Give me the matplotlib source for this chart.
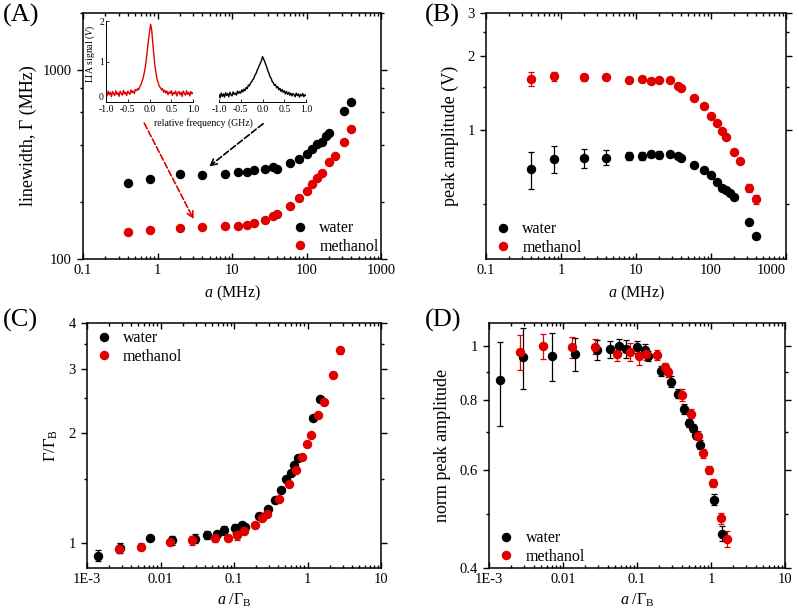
import numpy as np
import matplotlib
matplotlib.use('Agg')
import matplotlib.pyplot as plt
from matplotlib.lines import Line2D
from matplotlib.ticker import FixedLocator, FixedFormatter, NullFormatter

plt.rcParams['font.family'] = ['Liberation Serif', 'DejaVu Serif']
plt.rcParams['mathtext.fontset'] = 'custom'
plt.rcParams['mathtext.rm'] = 'Liberation Serif'
plt.rcParams['mathtext.it'] = 'Liberation Serif:italic'
plt.rcParams['font.size'] = 11

RED = '#e00000'

# (A) linewidth vs a
a_water = [0.4, 0.8, 2, 4, 8, 12, 16, 20, 28, 36, 40, 60, 80, 100, 120, 140, 160, 180, 200, 320, 400]
lw_water = [253, 265, 282, 277, 282, 288, 289, 296, 300, 305, 301, 323, 336, 359, 383, 406, 418, 445, 463, 603, 675]
a_meth = [0.4, 0.8, 2, 4, 8, 12, 16, 20, 28, 36, 40, 60, 80, 100, 120, 140, 160, 200, 240, 320, 400]
lw_meth = [139, 142, 146, 147, 149, 149, 152, 155, 161, 168, 173, 190, 209, 230, 249, 268, 284, 324, 351, 418, 486]

# (B) peak amplitude vs a
amp_water = [0.698, 0.766, 0.77, 0.775, 0.788, 0.79, 0.802, 0.797, 0.80, 0.79, 0.77, 0.724, 0.691,
             0.658, 0.616, 0.583, 0.57, 0.554, 0.536, 0.426, 0.371]
amp_water_err = [0.12, 0.096, 0.07, 0.055, 0.03, 0.03, 0.025, 0.025, 0.02, 0.015, 0.015, 0.015, 0.012,
                 0.01, 0.01, 0.01, 0.008, 0.008, 0.008, 0.008, 0.008]
amp_meth = [1.618, 1.664, 1.643, 1.648, 1.603, 1.613, 1.592, 1.603, 1.598, 1.52, 1.488, 1.355, 1.254,
            1.143, 1.067, 0.994, 0.94, 0.82, 0.751, 0.583, 0.524]
amp_meth_err = [0.11, 0.07, 0.05, 0.05, 0.04, 0.04, 0.04, 0.03, 0.02, 0.02, 0.02, 0.02, 0.02,
                0.015, 0.015, 0.015, 0.015, 0.015, 0.015, 0.02, 0.02]

# (C) normalised linewidth vs a / Gamma_B
x_c_water = [0.00143, 0.00284, 0.00714, 0.0144, 0.029, 0.0431, 0.0584, 0.0727, 0.1017, 0.129, 0.143,
             0.216, 0.292, 0.364, 0.435, 0.508, 0.588, 0.66, 0.733, 1.172, 1.475]
g_c_water = [0.925, 0.971, 1.032, 1.017, 1.028, 1.054, 1.06, 1.085, 1.099, 1.118, 1.108,
             1.186, 1.236, 1.309, 1.40, 1.494, 1.555, 1.638, 1.709, 2.203, 2.472]
g_c_water_err = [0.03, 0.03, 0.02, 0.03, 0.03, 0.025, 0.02, 0.03, 0.03, 0.025, 0.02,
                 0.025, 0.02, 0.02, 0.02, 0.02, 0.02, 0.02, 0.03, 0.03, 0.04]
x_c_meth = [0.0027, 0.00538, 0.01365, 0.0272, 0.0548, 0.0824, 0.109, 0.138, 0.194, 0.242, 0.277,
            0.412, 0.553, 0.688, 0.83, 0.973, 1.113, 1.372, 1.674, 2.198, 2.767]
g_c_meth = [0.961, 0.979, 1.006, 1.017, 1.03, 1.032, 1.052, 1.081, 1.122, 1.173, 1.203,
            1.317, 1.451, 1.587, 1.72, 1.862, 1.971, 2.245, 2.437, 2.889, 3.37]
g_c_meth_err = [0.02, 0.02, 0.02, 0.03, 0.02, 0.02, 0.03, 0.02, 0.02, 0.02, 0.02,
                0.02, 0.02, 0.02, 0.02, 0.02, 0.02, 0.02, 0.02, 0.05, 0.07]

# (D) normalised peak amplitude vs a / Gamma_B
x_d_water = [0.00142, 0.00288, 0.00719, 0.0144, 0.0284, 0.0433, 0.0567, 0.0713, 0.0998, 0.127, 0.141,
             0.211, 0.286, 0.353, 0.425, 0.503, 0.563, 0.618, 0.705, 1.10, 1.39]
n_d_water = [0.869, 0.956, 0.961, 0.969, 0.985, 0.988, 1.0, 0.989, 0.997, 0.984, 0.96,
             0.903, 0.863, 0.821, 0.771, 0.729, 0.713, 0.693, 0.666, 0.530, 0.461]
n_d_water_err = [0.15, 0.12, 0.095, 0.065, 0.04, 0.035, 0.03, 0.035, 0.025, 0.025, 0.02,
                 0.02, 0.02, 0.015, 0.015, 0.012, 0.012, 0.012, 0.012, 0.012, 0.014]
x_d_meth = [0.00266, 0.00537, 0.0134, 0.0268, 0.0538, 0.08, 0.107, 0.134, 0.188, 0.239,
            0.266, 0.406, 0.535, 0.667, 0.787, 0.929, 1.065, 1.35, 1.63]
n_d_meth = [0.977, 1.0, 0.997, 0.997, 0.969, 0.976, 0.96, 0.966, 0.963, 0.918,
            0.897, 0.818, 0.757, 0.691, 0.642, 0.60, 0.568, 0.491, 0.451]
n_d_meth_err = [0.07, 0.053, 0.043, 0.031, 0.03, 0.035, 0.035, 0.02, 0.02, 0.015,
                0.015, 0.02, 0.015, 0.012, 0.012, 0.01, 0.01, 0.012, 0.015]

# inset spectra (LIA signal, V) sampled every 0.025 GHz
rel_freq = np.linspace(-1.0, 1.0, 81)
lia_meth = [0.22, 0.15, 0.27, 0.18, 0.24, 0.13, 0.26, 0.20, 0.16, 0.28, 0.19, 0.23, 0.14, 0.27, 0.21,
            0.17, 0.29, 0.20, 0.24, 0.16, 0.27, 0.22, 0.19, 0.30, 0.23, 0.27, 0.21, 0.31, 0.28, 0.33,
            0.30, 0.38, 0.42, 0.50, 0.58, 0.70, 0.84, 1.05, 1.28, 1.52, 1.72, 1.92, 1.78, 1.45, 1.15,
            0.88, 0.70, 0.55, 0.48, 0.38, 0.36, 0.30, 0.33, 0.24, 0.29, 0.22, 0.27, 0.18, 0.25, 0.21,
            0.28, 0.16, 0.24, 0.20, 0.27, 0.15, 0.23, 0.26, 0.18, 0.24, 0.14, 0.27, 0.21, 0.17, 0.28,
            0.19, 0.24, 0.15, 0.26, 0.20, 0.23]
lia_water = [0.18, 0.10, 0.22, 0.14, 0.20, 0.12, 0.23, 0.16, 0.21, 0.13, 0.24, 0.18, 0.15, 0.25, 0.19,
             0.22, 0.17, 0.27, 0.21, 0.26, 0.22, 0.30, 0.25, 0.32, 0.28, 0.36, 0.33, 0.42, 0.40, 0.47,
             0.50, 0.55, 0.58, 0.66, 0.70, 0.78, 0.83, 0.90, 0.96, 1.02, 1.12, 1.06, 1.00, 0.92, 0.86,
             0.76, 0.70, 0.62, 0.58, 0.50, 0.47, 0.41, 0.43, 0.35, 0.38, 0.30, 0.34, 0.26, 0.31, 0.24,
             0.28, 0.20, 0.26, 0.19, 0.24, 0.17, 0.22, 0.15, 0.21, 0.18, 0.13, 0.22, 0.16, 0.20, 0.12,
             0.19, 0.15, 0.21, 0.13, 0.18, 0.16]

MS = 5.8


def style_axis(ax, xmaj, xlab, xmin, ymaj, ylab, ymin):
    ax.set_xscale('log')
    ax.set_yscale('log')
    ax.xaxis.set_major_locator(FixedLocator(xmaj))
    ax.xaxis.set_major_formatter(FixedFormatter(xlab))
    ax.xaxis.set_minor_locator(FixedLocator(xmin))
    ax.xaxis.set_minor_formatter(NullFormatter())
    ax.yaxis.set_major_locator(FixedLocator(ymaj))
    ax.yaxis.set_major_formatter(FixedFormatter(ylab))
    ax.yaxis.set_minor_locator(FixedLocator(ymin))
    ax.yaxis.set_minor_formatter(NullFormatter())
    ax.tick_params(which='both', top=True, right=True, labelsize=10.5, width=1.0)
    ax.tick_params(which='major', length=4.5)
    ax.tick_params(which='minor', length=2.5)
    ax.tick_params(axis='y', which='both', direction='out')
    ax.tick_params(axis='x', which='both', direction='in')
    for s in ax.spines.values():
        s.set_linewidth(1.1)


def minor_decades(lo, hi):
    out = []
    for e in range(lo, hi):
        for m in range(2, 10):
            out.append(m * 10.0 ** e)
    return out


def points(ax, x, y, err, color):
    ax.errorbar(x, y, yerr=err, fmt='o', color=color, ms=MS, elinewidth=0.9,
                capsize=2, capthick=0.9)


def add_legend(ax, x0, yc):
    handles = [Line2D([], [], ls='', marker='o', color='black', ms=MS),
               Line2D([], [], ls='', marker='o', color=RED, ms=MS)]
    ax.legend(handles, ['water', 'methanol'], loc='center left', bbox_to_anchor=(x0, yc),
              frameon=False, fontsize=11.5, handlelength=1.0, handletextpad=0.7,
              labelspacing=0.15, borderpad=0, borderaxespad=0)


fig = plt.figure(figsize=(7.99, 6.16), dpi=100)

# ---- (A)
axA = fig.add_axes([0.1039, 0.5795, 0.3730, 0.3994])
axA.plot(a_water, lw_water, 'o', color='black', ms=MS)
axA.plot(a_meth, lw_meth, 'o', color=RED, ms=MS)
style_axis(axA, [0.1, 1, 10, 100, 1000], ['0.1', '1', '10', '100', '1000'], minor_decades(-1, 3),
           [100, 1000], ['100', '1000'], [200, 400, 600, 800, 2000])
axA.set_xlim(0.1, 1000)
axA.set_ylim(100, 2000)
axA.set_xlabel('$a$ (MHz)', fontsize=11.5, labelpad=5)
axA.set_ylabel('linewidth, Γ (MHz)', fontsize=13, labelpad=4)
add_legend(axA, 0.702, 0.088)

# inset spectra
in1 = fig.add_axes([0.1327, 0.8344, 0.1089, 0.1315])
in1.plot(rel_freq, lia_meth, color=RED, lw=1.0)
in2 = fig.add_axes([0.2741, 0.8344, 0.1089, 0.1315])
in2.plot(rel_freq, lia_water, color='black', lw=1.0)
for ins in (in1, in2):
    ins.set_xlim(-1.0, 1.0)
    ins.set_ylim(0, 2)
    ins.patch.set_alpha(0)
    ins.spines['top'].set_visible(False)
    ins.spines['right'].set_visible(False)
    ins.spines['bottom'].set_linewidth(0.7)
    ins.set_xticks([-1.0, -0.5, 0.0, 0.5, 1.0])
    ins.set_xticklabels(['-1.0', '-0.5', '0.0', '0.5', '1.0'])
    ins.tick_params(labelsize=7, length=2, width=0.6, direction='in')
    ins.tick_params(axis='x', pad=2.5)
in1.spines['left'].set_linewidth(0.7)
in1.set_yticks([0, 1, 2])
in1.set_yticklabels(['0', '1', '2'])
in1.tick_params(axis='y', pad=1.5)
in1.get_yticklabels()[0].set_verticalalignment('bottom')
in1.set_ylabel('LIA signal ($V$)', fontsize=7)
in1.yaxis.set_label_coords(-0.1, 0.6)
in2.spines['left'].set_visible(False)
in2.set_yticks([])
fig.text(0.255, 0.801, 'relative frequency (GHz)', fontsize=7, ha='center', va='center')

# arrows from the inset spectra to their data points
axA.annotate('', xy=(0.244, 0.640), xycoords='figure fraction',
             xytext=(0.179, 0.804), textcoords='figure fraction',
             arrowprops=dict(arrowstyle='->', linestyle='--', color=RED, lw=1.2))
axA.annotate('', xy=(0.259, 0.727), xycoords='figure fraction',
             xytext=(0.332, 0.802), textcoords='figure fraction',
             arrowprops=dict(arrowstyle='->', linestyle='--', color='black', lw=1.2))

# ---- (B)
axB = fig.add_axes([0.6083, 0.5795, 0.3755, 0.3994])
points(axB, a_water, amp_water, amp_water_err, 'black')
points(axB, a_meth, amp_meth, amp_meth_err, RED)
style_axis(axB, [0.1, 1, 10, 100, 1000], ['0.1', '1', '10', '100', '1000'], minor_decades(-1, 3),
           [1, 2, 3], ['1', '2', '3'], [0.5, 1.5, 2.5])
axB.set_xlim(0.1, 1000)
axB.set_ylim(0.3, 3)
axB.set_xlabel('$a$ (MHz)', fontsize=11.5, labelpad=5)
axB.set_ylabel('peak amplitude (V)', fontsize=13, labelpad=6)
add_legend(axB, 0.03, 0.083)
# last x tick label sits at the figure edge, keep it inside
axB.get_xticklabels()[-1].set_horizontalalignment('right')

# ---- (C)
axC = fig.add_axes([0.1089, 0.0779, 0.3680, 0.3977])
points(axC, x_c_water, g_c_water, g_c_water_err, 'black')
points(axC, x_c_meth, g_c_meth, g_c_meth_err, RED)
style_axis(axC, [1e-3, 1e-2, 0.1, 1, 10], ['1E-3', '0.01', '0.1', '1', '10'], minor_decades(-3, 1),
           [1, 2, 3, 4], ['1', '2', '3', '4'], [1.5, 2.5, 3.5])
axC.set_xlim(1e-3, 10)
axC.set_ylim(0.855, 4)
axC.set_xlabel(r'$a\ /\Gamma_{\mathrm{B}}$', fontsize=11.5, labelpad=4)
axC.set_ylabel(r'$\Gamma/\Gamma_{\mathrm{B}}$', fontsize=12, labelpad=6)
add_legend(axC, 0.029, 0.90)

# ---- (D)
axD = fig.add_axes([0.6120, 0.0779, 0.3705, 0.3977])
points(axD, x_d_water, n_d_water, n_d_water_err, 'black')
points(axD, x_d_meth, n_d_meth, n_d_meth_err, RED)
style_axis(axD, [1e-3, 1e-2, 0.1, 1, 10], ['1E-3', '0.01', '0.1', '1', '10'], minor_decades(-3, 1),
           [0.4, 0.6, 0.8, 1.0], ['0.4', '0.6', '0.8', '1'], [0.5, 0.7, 0.9])
axD.set_xlim(1e-3, 10)
axD.set_ylim(0.4, 1.1)
axD.set_xlabel(r'$a\ /\Gamma_{\mathrm{B}}$', fontsize=11.5, labelpad=4)
axD.set_ylabel('norm peak amplitude', fontsize=13, labelpad=6)
add_legend(axD, 0.032, 0.084)

# panel letters
for txt, x, y in [('(A)', 0.003, 0.975), ('(B)', 0.532, 0.975),
                  ('(C)', 0.003, 0.48), ('(D)', 0.532, 0.48)]:
    fig.text(x, y, txt, fontsize=19, ha='left', va='center')

fig.savefig('out.png', dpi=100)
plt.close(fig)
